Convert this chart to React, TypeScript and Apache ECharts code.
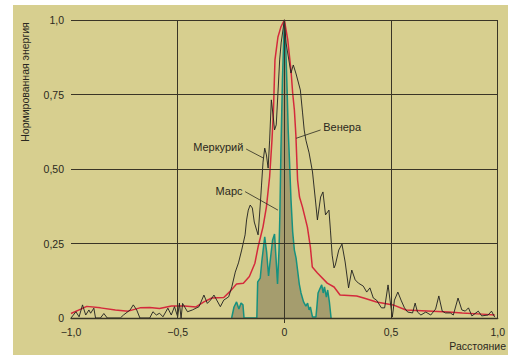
import React, { useEffect, useRef } from "react";
import * as echarts from "echarts";

const xTickLabels = ["−1,0", "−0,5", "0", "0,5", "1,0"];
const yTickLabels = ["0", "0,25", "0,50", "0,75", "1,0"];
const verticalGridValues = [-0.5, 0.5, 1.0];

// Меркурий (x, normalized energy)
const mercury: [number, number][] = [
  [-1.0, 0], [-0.977, 0.021], [-0.962, 0.004], [-0.946, 0.044], [-0.931, 0.01], [-0.916, 0.027],
  [-0.908, 0.016], [-0.893, 0.033], [-0.885, 0], [-0.862, 0], [-0.846, 0.015], [-0.83, 0],
  [-0.769, 0], [-0.754, 0.01], [-0.723, 0.027], [-0.708, 0.044], [-0.692, 0.027], [-0.677, 0],
  [-0.631, 0], [-0.616, 0.021], [-0.6, 0.01], [-0.585, 0.016], [-0.569, 0.004], [-0.546, 0.033],
  [-0.53, 0.01], [-0.515, 0.038], [-0.5, 0.004], [-0.492, 0.05], [-0.484, 0], [-0.477, 0.049],
  [-0.454, 0.021], [-0.431, 0.027], [-0.4, 0.038], [-0.377, 0.077], [-0.361, 0.049], [-0.346, 0.06],
  [-0.33, 0.077], [-0.3, 0.038], [-0.284, 0.06], [-0.261, 0.071], [-0.246, 0.105], [-0.23, 0.154],
  [-0.215, 0.185], [-0.2, 0.228], [-0.184, 0.279], [-0.177, 0.329], [-0.169, 0.362], [-0.16, 0.379],
  [-0.15, 0.369], [-0.141, 0.322], [-0.13, 0.295], [-0.123, 0.279], [-0.113, 0.379], [-0.107, 0.446],
  [-0.1, 0.523], [-0.092, 0.57], [-0.084, 0.547], [-0.076, 0.503], [-0.069, 0.597], [-0.061, 0.732],
  [-0.053, 0.681], [-0.046, 0.631], [-0.038, 0.648], [-0.03, 0.755], [-0.022, 0.866], [-0.015, 0.923],
  [0, 1.0], [0.008, 0.923], [0.031, 0.822], [0.042, 0.849], [0.055, 0.819], [0.075, 0.765],
  [0.085, 0.691], [0.093, 0.631], [0.101, 0.597], [0.116, 0.554], [0.132, 0.49], [0.147, 0.386],
  [0.155, 0.329], [0.17, 0.406], [0.181, 0.423], [0.193, 0.346], [0.209, 0.362], [0.216, 0.295],
  [0.224, 0.211], [0.233, 0.168], [0.239, 0.178], [0.255, 0.228], [0.27, 0.248], [0.285, 0.188],
  [0.301, 0.101], [0.316, 0.161], [0.332, 0.128], [0.347, 0.117], [0.37, 0.107], [0.386, 0.087],
  [0.401, 0.101], [0.417, 0.067], [0.432, 0.06], [0.455, 0.034], [0.47, 0.034], [0.486, 0.111],
  [0.506, 0.003], [0.516, 0.06], [0.532, 0.087], [0.547, 0.06], [0.563, 0.034], [0.578, 0.02],
  [0.601, 0.017], [0.613, 0.05], [0.624, 0.02], [0.64, 0.01], [0.663, 0.02], [0.686, 0.01],
  [0.709, 0.03], [0.724, 0.074], [0.74, 0.023], [0.755, 0.017], [0.778, 0.017], [0.792, 0.01],
  [0.814, 0.067], [0.832, 0.027], [0.848, 0.023], [0.863, 0.034], [0.879, 0.007], [0.909, 0.023],
  [0.925, 0.007], [0.955, 0.01], [0.971, 0.023], [0.986, 0.003],
];

// Венера
const venus: [number, number][] = [
  [-1.0, 0.015], [-0.954, 0.03], [-0.926, 0.039], [-0.862, 0.034], [-0.792, 0.027], [-0.732, 0.023],
  [-0.677, 0.034], [-0.631, 0.035], [-0.585, 0.032], [-0.529, 0.04], [-0.469, 0.04], [-0.414, 0.037],
  [-0.377, 0.054], [-0.34, 0.067], [-0.284, 0.069], [-0.252, 0.091], [-0.224, 0.114], [-0.192, 0.117],
  [-0.164, 0.139], [-0.138, 0.184], [-0.123, 0.239], [-0.1, 0.306], [-0.084, 0.373], [-0.069, 0.474],
  [-0.058, 0.597], [-0.051, 0.698], [-0.044, 0.866], [-0.03, 0.943], [-0.016, 0.977], [0, 1.0],
  [0.016, 0.933], [0.031, 0.832], [0.039, 0.755], [0.047, 0.698], [0.054, 0.614], [0.062, 0.463],
  [0.071, 0.406], [0.085, 0.372], [0.108, 0.305], [0.122, 0.238], [0.131, 0.171], [0.155, 0.151],
  [0.201, 0.117], [0.233, 0.104], [0.261, 0.077], [0.339, 0.074], [0.372, 0.067], [0.432, 0.054],
  [0.51, 0.044], [0.57, 0.027], [0.695, 0.023], [0.769, 0.02], [0.834, 0.017], [0.926, 0.013],
  [0.986, 0.01],
];

// Марс (zero outside the plotted range)
const mars: [number, number][] = [
  [-0.247, 0], [-0.236, 0.037], [-0.224, 0.054], [-0.213, 0.03], [-0.203, 0.05],
  [-0.194, 0.044], [-0.189, 0], [-0.129, 0], [-0.125, 0.121], [-0.113, 0.134], [-0.106, 0.188],
  [-0.092, 0.272], [-0.083, 0.221], [-0.074, 0.141], [-0.067, 0.188], [-0.055, 0.262], [-0.046, 0.282],
  [-0.038, 0.188], [-0.032, 0.114], [-0.025, 0.228], [-0.021, 0.346], [-0.016, 0.564], [-0.009, 0.799],
  [0, 1.0], [0.007, 0.899], [0.013, 0.765], [0.018, 0.631], [0.024, 0.53], [0.031, 0.399],
  [0.039, 0.289], [0.047, 0.228], [0.055, 0.201], [0.07, 0.114], [0.078, 0.084], [0.09, 0.054],
  [0.101, 0.04], [0.109, 0.05], [0.116, 0.027], [0.122, 0.037], [0.132, 0.003], [0.148, 0.003],
  [0.152, 0.034], [0.158, 0.084], [0.164, 0.094], [0.175, 0.111], [0.182, 0.084], [0.188, 0.104],
  [0.197, 0.07], [0.203, 0.094], [0.211, 0.054], [0.219, 0],
];

const FONT = "'Liberation Sans', Arial, sans-serif";
const TEXT = "#2a2820";
const GRIDC = "#3a3526";
const BG = "#d7cf8f";

// annotation anchors in data coordinates
const annotations = [
  { text: "Меркурий", at: [-0.192, 0.574], align: "right", from: [-0.179, 0.567], to: [-0.099, 0.537] },
  { text: "Венера", at: [0.182, 0.641], align: "left", from: [0.17, 0.631], to: [0.055, 0.603] },
  { text: "Марс", at: [-0.196, 0.427], align: "right", from: [-0.184, 0.424], to: [-0.03, 0.362] },
];

export default function App() {
  const ref = useRef<HTMLDivElement>(null);
  useEffect(() => {
    const chart = echarts.init(ref.current!, null, { renderer: "svg" });
    chart.setOption({
      animation: false,
      backgroundColor: BG,
      grid: { left: 71, right: 4, top: 20, bottom: 37 },
      xAxis: {
        type: "value",
        min: -1,
        max: 1,
        interval: 0.5,
        z: 10,
        axisLine: { show: true, onZero: false, lineStyle: { color: GRIDC, width: 1.3 } },
        axisTick: { show: true, customValues: [0], length: 5, lineStyle: { color: GRIDC } },
        splitLine: { show: false },
        axisLabel: {
          color: TEXT,
          fontSize: 10.5,
          fontFamily: FONT,
          margin: 8,
          formatter: (v: number) => xTickLabels[Math.round((v + 1) / 0.5)],
        },
      },
      yAxis: {
        type: "value",
        min: 0,
        max: 1,
        interval: 0.25,
        z: 10,
        axisLine: { show: true, lineStyle: { color: GRIDC, width: 1 } },
        axisTick: { show: false },
        splitLine: { show: true, lineStyle: { color: GRIDC, width: 1 } },
        axisLabel: {
          color: TEXT,
          fontSize: 10.5,
          fontFamily: FONT,
          margin: 7,
          formatter: (v: number) => yTickLabels[Math.round(v / 0.25)],
        },
      },
      series: [
        {
          name: "Марс",
          type: "line",
          data: mars,
          showSymbol: false,
          z: 2,
          lineStyle: { color: "#16917f", width: 1.5 },
          areaStyle: { color: "#a59d6e", opacity: 1 },
          markLine: {
            silent: true,
            symbol: ["none", "none"],
            label: { show: false },
            lineStyle: { color: GRIDC, width: 1, type: "solid" },
            data: verticalGridValues.map((v) => ({ xAxis: v })),
          },
        },
        {
          name: "Венера",
          type: "line",
          data: venus,
          showSymbol: false,
          z: 3,
          lineStyle: { color: "#d42a3c", width: 1.5 },
        },
        {
          name: "Меркурий",
          type: "line",
          data: mercury,
          showSymbol: false,
          z: 4,
          lineStyle: { color: "#1e1e1e", width: 0.9 },
        },
      ],
    });

    const toPx = (p: number[]) => chart.convertToPixel({ gridIndex: 0 }, p) as number[];
    const graphics: any[] = [
      { type: "rect", silent: true, z: 100, shape: { x: 0, y: 0, width: 508, height: 5 }, style: { fill: "#ffffff" } },
      { type: "rect", silent: true, z: 100, shape: { x: 0, y: 0, width: 13, height: 355 }, style: { fill: "#ffffff" } },
      {
        type: "text",
        x: 25,
        y: 82,
        rotation: Math.PI / 2,
        z: 100,
        style: {
          text: "Нормированная энергия",
          fill: TEXT,
          font: `10.5px ${FONT}`,
          align: "center",
          textAlign: "center",
          verticalAlign: "middle",
          textVerticalAlign: "middle",
        },
      },
      {
        type: "text",
        x: 506,
        y: 346,
        z: 100,
        style: {
          text: "Расстояние",
          fill: TEXT,
          font: `10.5px ${FONT}`,
          align: "right",
          textAlign: "right",
          verticalAlign: "middle",
          textVerticalAlign: "middle",
        },
      },
    ];
    annotations.forEach((a) => {
      const t = toPx(a.at);
      const f = toPx(a.from);
      const e = toPx(a.to);
      graphics.push({
        type: "text",
        x: t[0],
        y: t[1],
        z: 100,
        style: {
          text: a.text,
          fill: TEXT,
          font: `11px ${FONT}`,
          align: a.align,
          textAlign: a.align,
          verticalAlign: "middle",
          textVerticalAlign: "middle",
        },
      });
      graphics.push({
        type: "line",
        z: 100,
        shape: { x1: f[0], y1: f[1], x2: e[0], y2: e[1] },
        style: { stroke: "#2a2820", lineWidth: 0.8 },
      });
    });
    chart.setOption({ graphic: graphics });

    return () => chart.dispose();
  }, []);

  return (
    <div
      ref={ref}
      style={{ position: "absolute", left: 0, top: 0, width: 508, height: 355, background: "#ffffff" }}
    />
  );
}
